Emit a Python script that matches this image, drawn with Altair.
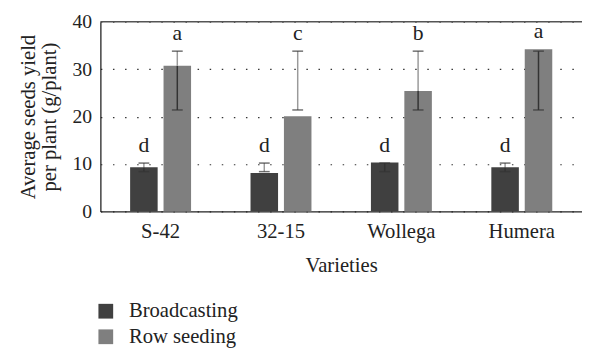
import altair as alt
import pandas as pd

varieties = ["S-42", "32-15", "Wollega", "Humera"]
series = ["Broadcasting", "Row seeding"]
colors = ["#404040", "#7f7f7f"]

broadcast_mean = [9.3, 8.1, 10.3, 9.3]
broadcast_low = [8.4, 8.4, 8.4, 8.4]
broadcast_high = [10.2, 10.2, 10.2, 10.2]
broadcast_letters = ["d", "d", "d", "d"]

row_mean = [30.7, 20.1, 25.4, 34.2]
row_low = [21.4, 21.4, 21.4, 21.4]
row_high = [33.8, 33.8, 33.8, 33.8]
row_letters = ["a", "c", "b", "a"]

y_ticks = [0, 10, 20, 30, 40]

rows = []
for i, v in enumerate(varieties):
    rows.append(dict(Variety=v, Series=series[0], value=broadcast_mean[i],
                     lo=broadcast_low[i], hi=broadcast_high[i], letter=broadcast_letters[i]))
    rows.append(dict(Variety=v, Series=series[1], value=row_mean[i],
                     lo=row_low[i], hi=row_high[i], letter=row_letters[i]))
df = pd.DataFrame(rows)

FONT = "Liberation Serif"
y_scale = alt.Scale(domain=[0, 40], nice=False)
x_enc = alt.X("Variety:N", sort=varieties,
              scale=alt.Scale(paddingInner=0, paddingOuter=0),
              axis=alt.Axis(title="Varieties", labelAngle=0, ticks=False,
                            labelFont=FONT, titleFont=FONT,
                            labelFontSize=21, titleFontSize=21,
                            labelPadding=10, titlePadding=13,
                            domainColor="#222", domainWidth=1.3))
xo_enc = alt.XOffset("Series:N", sort=series,
                     scale=alt.Scale(paddingInner=0.176, paddingOuter=0.89))

base = alt.Chart(df)

bars = base.mark_bar().encode(
    x=x_enc,
    xOffset=xo_enc,
    y=alt.Y("value:Q", scale=y_scale,
            axis=alt.Axis(values=y_ticks, ticks=False, labelPadding=9,
                          labelFont=FONT, titleFont=FONT,
                          labelFontSize=20, titleFontSize=21,
                          grid=True, gridDash=[1.5, 10.8], gridColor="#333",
                          gridWidth=1.2, domainColor="#222", domainWidth=1.3,
                          title=["Average seeds yield", "per plant (g/plant)"],
                          titleLineHeight=21, titlePadding=13)),
    color=alt.Color("Series:N", sort=series,
                    scale=alt.Scale(domain=series, range=colors),
                    legend=alt.Legend(title=None, orient="none", legendX=-5, legendY=284,
                                      padding=0,
                                      symbolType="square", symbolSize=225,
                                      symbolStrokeWidth=0, labelFont=FONT,
                                      labelFontSize=21, labelColor="#222",
                                      labelOffset=13, rowPadding=4, direction="vertical")),
)

dark_stem = base.transform_calculate(
    s0="datum.lo", s1="min(datum.hi, datum.value)"
).transform_filter("datum.s1 > datum.s0").mark_rule(color="#333", strokeWidth=1.5).encode(
    x=alt.X("Variety:N", sort=varieties), xOffset=alt.XOffset("Series:N", sort=series),
    y=alt.Y("s0:Q", scale=y_scale), y2="s1:Q")

gray_stem = base.transform_calculate(
    s0="max(datum.lo, datum.value)", s1="datum.hi"
).transform_filter("datum.s1 > datum.s0").mark_rule(color="#9a9a9a", strokeWidth=1.5).encode(
    x=alt.X("Variety:N", sort=varieties), xOffset=alt.XOffset("Series:N", sort=series),
    y=alt.Y("s0:Q", scale=y_scale), y2="s1:Q")

cap_hi = base.mark_tick(color="#333", thickness=1.5, size=11).encode(
    x=alt.X("Variety:N", sort=varieties), xOffset=alt.XOffset("Series:N", sort=series),
    y=alt.Y("hi:Q", scale=y_scale))
cap_lo = base.mark_tick(color="#333", thickness=1.5, size=11).encode(
    x=alt.X("Variety:N", sort=varieties), xOffset=alt.XOffset("Series:N", sort=series),
    y=alt.Y("lo:Q", scale=y_scale))

letters = base.transform_calculate(top="max(datum.hi, datum.value)").mark_text(
    font=FONT, fontSize=22, color="#222", baseline="alphabetic", dy=-11
).encode(
    x=alt.X("Variety:N", sort=varieties), xOffset=alt.XOffset("Series:N", sort=series),
    y=alt.Y("top:Q", scale=y_scale), text="letter:N")

top_line = alt.Chart(pd.DataFrame({"v": [y_ticks[-1]]})).mark_rule(
    color="#555", strokeWidth=1.5).encode(y=alt.Y("v:Q", scale=y_scale))

chart = alt.layer(bars, dark_stem, gray_stem, cap_hi, cap_lo, letters, top_line).properties(
    width=490, height=193,
    padding={"left": 94, "top": 11, "right": 0, "bottom": 140},
    autosize=alt.AutoSizeParams(type="none"),
).configure(font=FONT).configure_view(stroke=None).configure_axis(
    labelColor="#222", titleColor="#222", titleFontWeight="normal"
).configure_legend(labelFont=FONT, labelColor="#222")

chart.save("out.html", embed_options={"renderer": "svg", "actions": False})
